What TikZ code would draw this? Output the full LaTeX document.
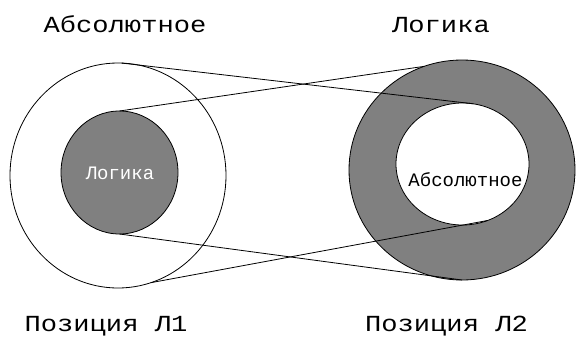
\documentclass[tikz,border=0pt]{standalone}
\usepackage{fontspec}
\newfontfamily\cour{Liberation Mono}
\usetikzlibrary{shapes.geometric}
\definecolor{ringgray}{HTML}{808080}
\tikzset{
  circ/.style={ellipse, draw=black, line width=0.8pt, inner sep=0pt, outer sep=0pt},
  link/.style={draw=black, line width=0.8pt},
  biglabel/.style={anchor=base, inner sep=0pt, font=\cour\fontsize{23}{23}\selectfont},
  smalllabel/.style={anchor=base, inner sep=0pt, font=\cour\fontsize{19}{19}\selectfont}
}
\begin{document}
\begin{tikzpicture}[x=1pt, y=-1pt]
\useasboundingbox (0,0) rectangle (576,338);
\fill[white] (0,0) rectangle (576,338);
% left circles
\node[circ, fill=white, minimum width=216pt, minimum height=225pt] (lo) at (118,175.5) {};
\node[circ, fill=ringgray, minimum width=117pt, minimum height=123pt] (li) at (119.5,172.5) {};
% right ring
\node[circ, fill=ringgray, minimum width=226pt, minimum height=220pt] (ro) at (462,170) {};
\node[circ, fill=white, minimum width=133pt, minimum height=122pt] (ri) at (462.5,164) {};
% connectors
\draw[link] (lo.88) -- (ri.80);
\draw[link] (li.90) -- (ro.110);
\draw[link] (li.270) -- (ro.270);
\draw[link] (lo.287) -- (ri.294);
% labels
\node[biglabel] (t1) at (125,32) {\scalebox{1.18}[1]{Абсолютное}};
\node[biglabel] (t2) at (441,32) {\scalebox{1.18}[1]{Логика}};
\node[biglabel] (b1) at (106,331) {\scalebox{1.18}[1]{Позиция Л1}};
\node[biglabel] (b2) at (446.5,331) {\scalebox{1.18}[1]{Позиция Л2}};
\node[smalllabel, text=white] (il) at (120,179) {Логика};
\node[smalllabel, text=black] (ir) at (465.5,186) {Абсолютное};
\end{tikzpicture}
\end{document}
